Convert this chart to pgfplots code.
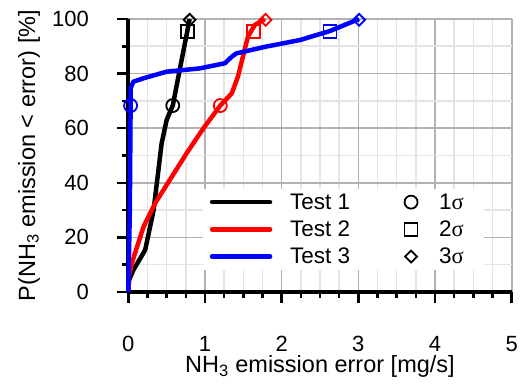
\documentclass[border=0pt]{standalone}
\usepackage{fontspec}
\setmainfont{Liberation Sans}
\newfontfamily\seriffont{Liberation Serif}
\usepackage{pgfplots}
\pgfplotsset{compat=1.18}
\definecolor{majgrid}{RGB}{178,178,178}
\definecolor{mingrid}{RGB}{228,228,228}
\pgfplotsset{
  lineleg/.style={legend image code/.code={\path[draw=none,fill=none] (0pt,-13.6pt) rectangle (79pt,13.6pt); \draw[##1] (9pt,0pt) -- (67pt,0pt);}},
  markleg/.style={legend image code/.code={\path[draw=none,fill=none] (0pt,-13.6pt) rectangle (43pt,13.6pt); \draw[##1] plot coordinates {(15pt,0pt)};}},
}
\begin{document}
\begin{tikzpicture}[font=\fontsize{22}{26}\selectfont]
\useasboundingbox (-128.3pt,-93pt) rectangle (399.7pt,292pt);
\begin{axis}[
  /pgf/number format/assume math mode=true,
  scale only axis, width=383.4pt, height=273pt,
  xmin=0, xmax=5, ymin=0, ymax=100,
  xtick={0,1,2,3,4,5}, ytick={0,20,40,60,80,100},
  minor x tick num=3, minor y tick num=1,
  grid=both,
  major grid style={majgrid, line width=1.6pt},
  minor grid style={mingrid, line width=1.6pt},
  axis lines*=left,
  axis line style={line width=4pt, black},
  tick align=outside,
  major tick length=11pt, minor tick length=6pt,
  tick style={black, line width=2.5pt},
  clip=false,
  xticklabel={\raisebox{-45pt}{\pgfmathprintnumber{\tick}}},
  yticklabel={\pgfmathprintnumber{\tick}\hspace*{25pt}},
  xlabel={NH\textsubscript{3} emission error [mg/s]},
  ylabel={P(NH\textsubscript{3} emission \textless{} error) [\%]},
  every axis x label/.style={at={(axis description cs:0.5,-0.2967)}, anchor=base, font=\fontsize{23.5}{28}\selectfont},
  every axis y label/.style={at={(axis description cs:-0.2433,0.5)}, rotate=90, anchor=base, font=\fontsize{23.5}{28}\selectfont},
  legend columns=2,
  legend cell align=left,
  legend style={at={(axis description cs:0.195,0.379)}, anchor=north west,
    draw=none, fill=white, inner sep=0pt, outer sep=0pt,
    column sep=0pt, row sep=0pt, nodes={inner sep=0pt}, font=\fontsize{22.5}{27}\selectfont},
]
\addlegendimage{lineleg, black, line width=4.5pt, line cap=round}
\addlegendentry{\makebox[8pt]{}\makebox[106pt][l]{Test 1}}
\addlegendimage{markleg, black, line width=1.8pt, mark=o, mark size=6.5pt}
\addlegendentry{\makebox[45pt][l]{1{\seriffont σ}}}
\addlegendimage{lineleg, red, line width=4.5pt, line cap=round}
\addlegendentry{\makebox[8pt]{}\makebox[106pt][l]{Test 2}}
\addlegendimage{markleg, black, line width=1.8pt, mark=square, mark size=6.5pt}
\addlegendentry{\makebox[45pt][l]{2{\seriffont σ}}}
\addlegendimage{lineleg, blue, line width=4.5pt, line cap=round}
\addlegendentry{\makebox[8pt]{}\makebox[106pt][l]{Test 3}}
\addlegendimage{markleg, black, line width=1.8pt, mark=square, mark options={rotate=45}, mark size=4.2pt}
\addlegendentry{\makebox[45pt][l]{3{\seriffont σ}}}

% Test 1
\addplot[black, line width=4.5pt, line join=round, forget plot] coordinates {
(0,0) (0.01,4.4) (0.065,8) (0.22,15.4) (0.33,30) (0.435,54.5) (0.5,63) (0.58,68.3) (0.67,81.3) (0.77,95.6) (0.80,100)};
% Test 2
\addplot[red, line width=4.5pt, line join=round, forget plot] coordinates {
(0,0) (0.01,6) (0.045,10.5) (0.2,24) (0.35,32.5) (0.54,41) (0.76,50.8) (0.98,60) (1.20,68.3) (1.35,72.8) (1.43,78.9) (1.50,86.8) (1.56,93.5) (1.65,97.8) (1.78,100)};
% Test 3
\addplot[blue, line width=4.5pt, line join=round, forget plot] coordinates {
(0,0) (0.02,30) (0.03,68.3) (0.03,74.6) (0.065,77) (0.2,78.3) (0.5,80.7) (0.93,81.9) (1.26,83.8) (1.35,86.2) (1.41,87.4) (1.80,89.9) (2.24,92.3) (2.63,95.6) (3.01,100)};
% sigma markers
\addplot[only marks, mark=o, mark size=6.5pt, black, line width=1.8pt, forget plot] coordinates {(0.58,68.3)};
\addplot[only marks, mark=square, mark size=6.5pt, black, line width=1.8pt, forget plot] coordinates {(0.77,95.4)};
\addplot[only marks, mark=square, mark options={rotate=45}, mark size=4.2pt, black, line width=1.8pt, forget plot] coordinates {(0.80,99.7)};
\addplot[only marks, mark=o, mark size=6.5pt, red, line width=1.8pt, forget plot] coordinates {(1.20,68.3)};
\addplot[only marks, mark=square, mark size=6.5pt, red, line width=1.8pt, forget plot] coordinates {(1.63,95.4)};
\addplot[only marks, mark=square, mark options={rotate=45}, mark size=4.2pt, red, line width=1.8pt, forget plot] coordinates {(1.79,99.7)};
\addplot[only marks, mark=o, mark size=6.5pt, blue, line width=1.8pt, forget plot] coordinates {(0.03,68.3)};
\addplot[only marks, mark=square, mark size=6.5pt, blue, line width=1.8pt, forget plot] coordinates {(2.63,95.4)};
\addplot[only marks, mark=square, mark options={rotate=45}, mark size=4.2pt, blue, line width=1.8pt, forget plot] coordinates {(3.01,99.7)};
\end{axis}
\end{tikzpicture}
\end{document}
